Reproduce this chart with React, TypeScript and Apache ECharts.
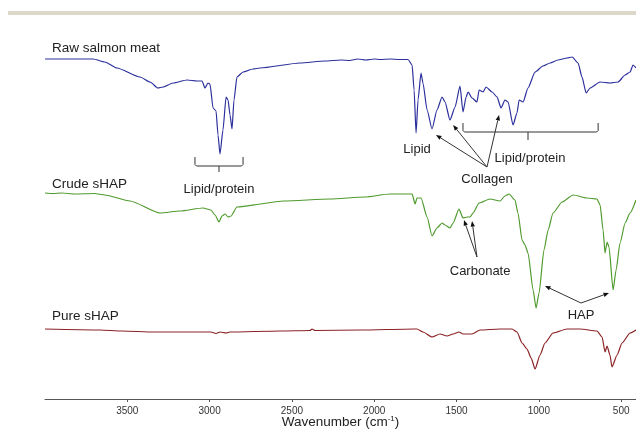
import React, { useEffect, useRef } from "react";
import * as echarts from "echarts";

// FTIR spectra: [wavenumber (cm-1), offset transmittance (a.u.)]
const rawSalmon: number[][] = [
  [4000, 340], [3848, 340], [3708, 340], [3636, 337], [3563, 331], [3423, 322], [3362, 317],
  [3314, 311], [3283, 312], [3222, 316], [3137, 319], [3077, 318], [3046, 318], [3028, 311],
  [3010, 316], [2998, 315], [2979, 291], [2961, 288], [2949, 264], [2937, 245], [2919, 269],
  [2900, 302], [2888, 299], [2876, 284], [2864, 270], [2852, 299], [2834, 322], [2797, 327],
  [2736, 330], [2694, 331], [2451, 336], [2300, 338], [2202, 339], [2150, 338.5], [2100, 340],
  [2050, 339], [2000, 340], [1965, 339.5], [1900, 340], [1850, 339.5], [1795, 339.5],
  [1770, 334], [1758, 309], [1746, 266], [1734, 299], [1716, 326], [1704, 316], [1679, 289],
  [1649, 270], [1619, 289], [1588, 302], [1570, 297], [1540, 279], [1509, 292], [1479, 313],
  [1461, 287], [1442, 302], [1430, 307], [1406, 301], [1376, 297], [1363, 309], [1339, 307],
  [1321, 312], [1284, 307], [1254, 302], [1230, 291], [1206, 299], [1187, 297], [1157, 274],
  [1133, 286], [1120, 299], [1096, 297], [1066, 311], [1023, 327], [975, 333], [932, 336],
  [884, 339], [829, 341], [798, 342], [762, 336], [738, 322], [713, 306], [689, 311],
  [628, 317], [568, 316], [519, 317], [476, 324], [446, 327], [428, 334], [410, 331],
];

const crudeSHAP: number[][] = [
  [4000, 206], [3950, 205.5], [3900, 206], [3818, 205], [3700, 205.5], [3636, 204],
  [3484, 198], [3301, 186], [3180, 188], [3040, 191], [2992, 189], [2967, 184], [2943, 177],
  [2925, 183], [2906, 185], [2888, 182], [2870, 183], [2834, 192], [2548, 198], [2269, 200],
  [2056, 202], [1904, 205], [1770, 205], [1752, 195], [1740, 201], [1716, 201], [1679, 182],
  [1649, 163], [1619, 171], [1588, 176], [1570, 174], [1540, 171], [1521, 176], [1485, 190],
  [1461, 181], [1436, 182], [1418, 182], [1400, 186], [1363, 196], [1297, 200], [1236, 198],
  [1206, 203], [1181, 205], [1145, 199], [1127, 186], [1102, 159], [1084, 154], [1066, 146],
  [1035, 109], [1017, 91], [999, 106], [969, 149], [944, 169], [914, 186], [859, 197],
  [792, 204], [707, 201], [647, 200], [628, 194], [610, 169], [598, 146], [586, 157],
  [574, 152], [549, 109], [531, 129], [507, 156], [476, 176], [446, 186], [410, 199],
];

const pureSHAP: number[][] = [
  [4000, 70], [3666, 69], [3532, 68], [3338, 67], [2992, 67], [2961, 65.5], [2937, 67],
  [2900, 66], [2876, 67], [2572, 68], [2390, 68.5], [2378, 70], [2360, 68.5], [2086, 69],
  [1758, 70], [1740, 70], [1704, 67], [1649, 62], [1600, 65], [1558, 63], [1521, 65],
  [1485, 67], [1461, 65], [1406, 65], [1357, 69], [1236, 70], [1163, 70], [1133, 67],
  [1102, 56], [1072, 50], [1047, 41], [1023, 30], [993, 44], [963, 56], [914, 66],
  [829, 70], [750, 70], [647, 68], [616, 62], [598, 47], [586, 53], [568, 44], [556, 32],
  [525, 44], [495, 56], [446, 66], [410, 69],
];

const tickValues = [3500, 3000, 2500, 2000, 1500, 1000, 500];
const seriesNames = ["Raw salmon meat", "Crude sHAP", "Pure sHAP"];
const seriesColors = ["#2b2f9c", "#4f9a2d", "#8b2224"];
const X_MIN = 410;
const X_MAX = 4000;

// annotations (in data coordinates)
const seriesLabelPos = [[3957, 352], [3957, 216], [3957, 84]];
const brackets = [
  { left: 3089, right: 2797, top: 242, bar: 233, center: 2943, tip: 227 },
  { left: 1461, right: 640, top: 276, bar: 267, center: 1066, tip: 259 },
];
const arrows = [
  [[1315, 232], [1625, 264]],
  [[1315, 232], [1521, 274]],
  [[1315, 232], [1242, 284]],
  [[1376, 142], [1455, 179]],
  [[1376, 142], [1406, 178]],
  [[744, 96], [963, 113]],
  [[744, 96], [574, 106]],
];
const notes = [
  { text: "Lipid/protein", at: [2943, 211] },
  { text: "Lipid/protein", at: [1054, 242] },
  { text: "Lipid", at: [1740, 251] },
  { text: "Collagen", at: [1315, 221] },
  { text: "Carbonate", at: [1357, 129] },
  { text: "HAP", at: [744, 85] },
];

const FONT = "'Liberation Sans', Arial, Helvetica, sans-serif";
const INK = "#222";
const LINE = "#333";

export default function App() {
  const ref = useRef<HTMLDivElement>(null);
  useEffect(() => {
    const chart = echarts.init(ref.current!, null, { renderer: "svg" });
    chart.setOption({
      animation: false,
      grid: { left: 45, right: 0, top: 11, bottom: 31, containLabel: false, outerBoundsMode: "none" },
      xAxis: {
        type: "value",
        inverse: true,
        min: X_MIN,
        max: X_MAX,
        axisLine: { lineStyle: { color: "#555", width: 1 } },
        axisTick: { show: true, length: 3, inside: false, customValues: tickValues, lineStyle: { color: "#555" } },
        axisLabel: {
          customValues: tickValues,
          formatter: (v: number) => String(v),
          fontFamily: FONT,
          fontSize: 10,
          color: "#333",
          margin: 6,
        },
        splitLine: { show: false },
      },
      yAxis: { type: "value", min: 0, max: 388, show: false, splitLine: { show: false } },
      series: [rawSalmon, crudeSHAP, pureSHAP].map((d, i) => ({
        name: seriesNames[i],
        type: "line",
        data: d,
        showSymbol: false,
        symbol: "none",
        smooth: 0.2,
        smoothMonotone: "x",
        lineStyle: { color: seriesColors[i], width: 1.2 },
        clip: true,
      })),
    });

    const px = (p: number[]) => chart.convertToPixel({ gridIndex: 0 }, p) as number[];
    const elements: any[] = [];
    elements.push({
      type: "rect",
      shape: { x: 8, y: 11, width: 628, height: 4 },
      style: { fill: "#ddd7c9" },
      silent: true,
    });
    // axis title
    const axisMid = px([(X_MIN + X_MAX) / 2, 0]);
    elements.push({
      type: "text",
      x: axisMid[0],
      y: axisMid[1] + 22.5,
      style: {
        text: "Wavenumber (cm{sup|-1})",
        fontFamily: FONT,
        fontSize: 13.5,
        fill: INK,
        align: "center",
        verticalAlign: "middle",
        rich: { sup: { fontFamily: FONT, fontSize: 8, fill: INK, padding: [0, 0, 7, 0] } },
      },
    });
    seriesNames.forEach((n, i) => {
      const [x, y] = px(seriesLabelPos[i]);
      elements.push({
        type: "text",
        x,
        y,
        style: { text: n, fontFamily: FONT, fontSize: 13.5, fill: INK, align: "left", verticalAlign: "middle" },
      });
    });
    brackets.forEach((b) => {
      const lt = px([b.left, b.top]);
      const lb = px([b.left, b.bar]);
      const rb = px([b.right, b.bar]);
      const rt = px([b.right, b.top]);
      const c = px([b.center, b.bar]);
      const t = px([b.center, b.tip]);
      elements.push({
        type: "polyline",
        shape: { points: [lt, [lb[0], lb[1] - 1.5], [lb[0] + 1.5, lb[1]], [rb[0] - 1.5, rb[1]], [rb[0], rb[1] - 1.5], rt] },
        style: { stroke: LINE, lineWidth: 1, fill: null },
      });
      elements.push({
        type: "line",
        shape: { x1: c[0], y1: c[1], x2: t[0], y2: t[1] },
        style: { stroke: LINE, lineWidth: 1 },
      });
    });
    arrows.forEach(([a, b]) => {
      const p0 = px(a);
      const p1 = px(b);
      const dx = p1[0] - p0[0];
      const dy = p1[1] - p0[1];
      const len = Math.hypot(dx, dy);
      const ux = dx / len;
      const uy = dy / len;
      const L = 5.5;
      const W = 2.2;
      const bx = p1[0] - ux * L;
      const by = p1[1] - uy * L;
      elements.push({
        type: "line",
        shape: { x1: p0[0], y1: p0[1], x2: bx, y2: by },
        style: { stroke: LINE, lineWidth: 1 },
      });
      elements.push({
        type: "polygon",
        shape: { points: [p1, [bx - uy * W, by + ux * W], [bx + uy * W, by - ux * W]] },
        style: { fill: "#111" },
      });
    });
    notes.forEach((n) => {
      const [x, y] = px(n.at);
      elements.push({
        type: "text",
        x,
        y,
        style: { text: n.text, fontFamily: FONT, fontSize: 13, fill: INK, align: "center", verticalAlign: "middle" },
      });
    });
    chart.setOption({ graphic: { elements } });
    return () => chart.dispose();
  }, []);
  return <div ref={ref} style={{ position: "fixed", left: 0, top: 0, width: 636, height: 430 }} />;
}
